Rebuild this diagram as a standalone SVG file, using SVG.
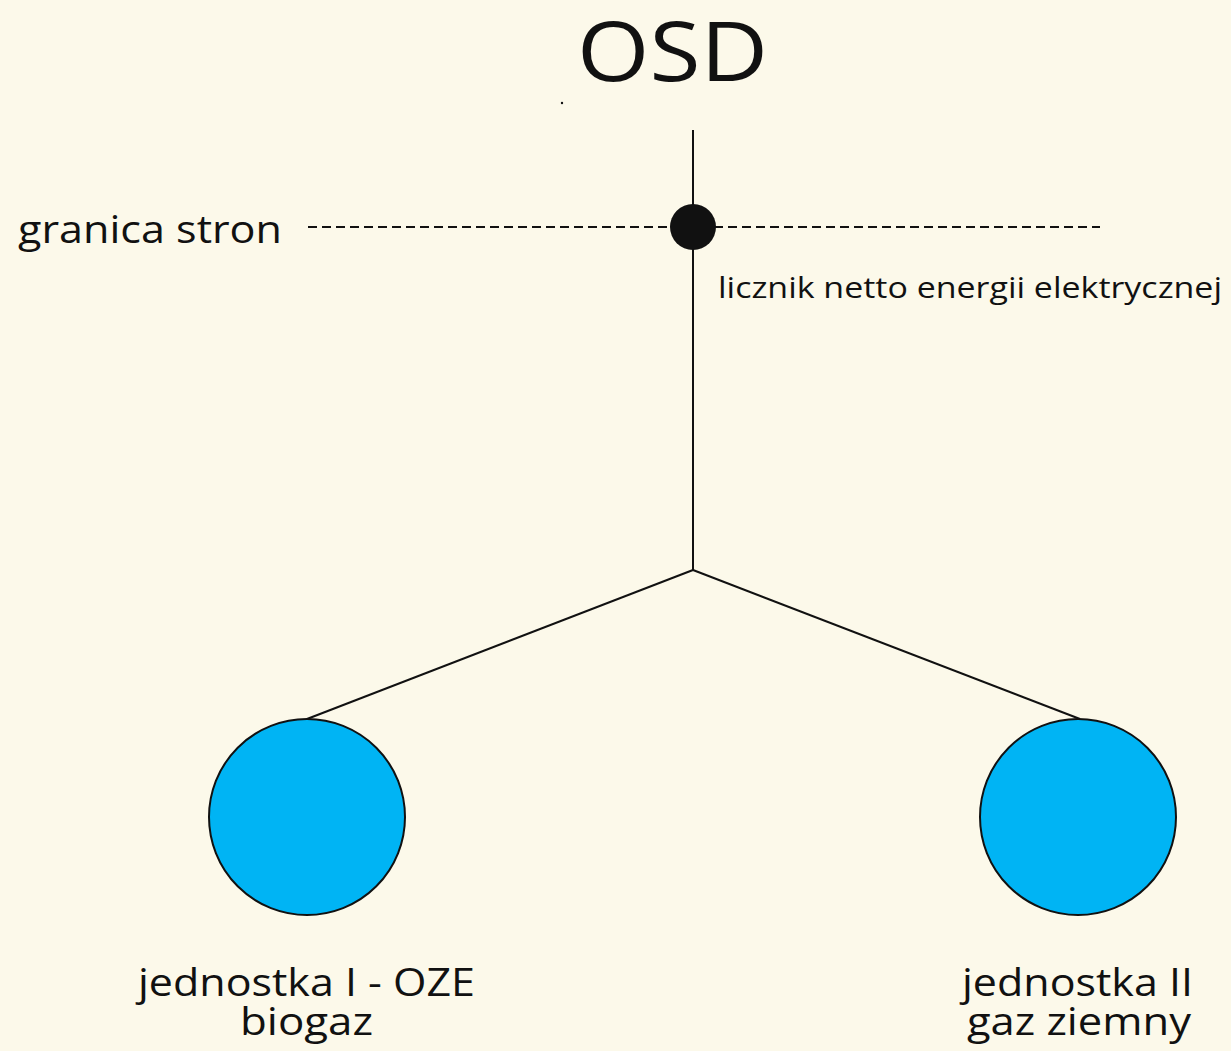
<svg xmlns="http://www.w3.org/2000/svg" width="1231" height="1051" viewBox="0 0 1231 1051">
<style>
.t{font-family:"Open Sans","Noto Sans","Liberation Sans",sans-serif;fill:#111}
.ln{stroke:#111;stroke-width:2;fill:none}
.unit{fill:#00B4F4;stroke:#111;stroke-width:2}
</style>
<rect width="1231" height="1051" fill="#FCF9EA"/>
<g id="osd"><text class="t" x="577" y="81" font-size="82" textLength="191" lengthAdjust="spacingAndGlyphs">OSD</text>
<circle cx="562" cy="103" r="1.2" fill="#111"/></g>
<g id="connectors">
<line class="ln" x1="693" y1="130" x2="693" y2="570"/>
<line class="ln" x1="308" y1="227" x2="1100" y2="227" stroke-dasharray="9,5" stroke-width="1.5"/>
<line class="ln" x1="693" y1="570" x2="307" y2="719"/>
<line class="ln" x1="693" y1="570" x2="1080" y2="719"/>
</g>
<g id="granica"><text class="t" x="18" y="243" font-size="39" textLength="264" lengthAdjust="spacingAndGlyphs">granica stron</text></g>
<g id="licznik"><circle cx="693" cy="227" r="23" fill="#111"/>
<text class="t" x="718" y="298" font-size="29" textLength="504" lengthAdjust="spacingAndGlyphs">licznik netto energii elektrycznej</text></g>
<g id="jednostka1"><circle class="unit" cx="307" cy="817" r="98"/>
<text class="t" x="138" y="996" font-size="38" textLength="337" lengthAdjust="spacingAndGlyphs">jednostka I - OZE</text>
<text class="t" x="240" y="1035" font-size="38" textLength="133" lengthAdjust="spacingAndGlyphs">biogaz</text></g>
<g id="jednostka2"><circle class="unit" cx="1078" cy="817" r="98"/>
<text class="t" x="962" y="996" font-size="38" textLength="231" lengthAdjust="spacingAndGlyphs">jednostka II</text>
<text class="t" x="967" y="1035" font-size="38" textLength="224" lengthAdjust="spacingAndGlyphs">gaz ziemny</text></g>
</svg>
